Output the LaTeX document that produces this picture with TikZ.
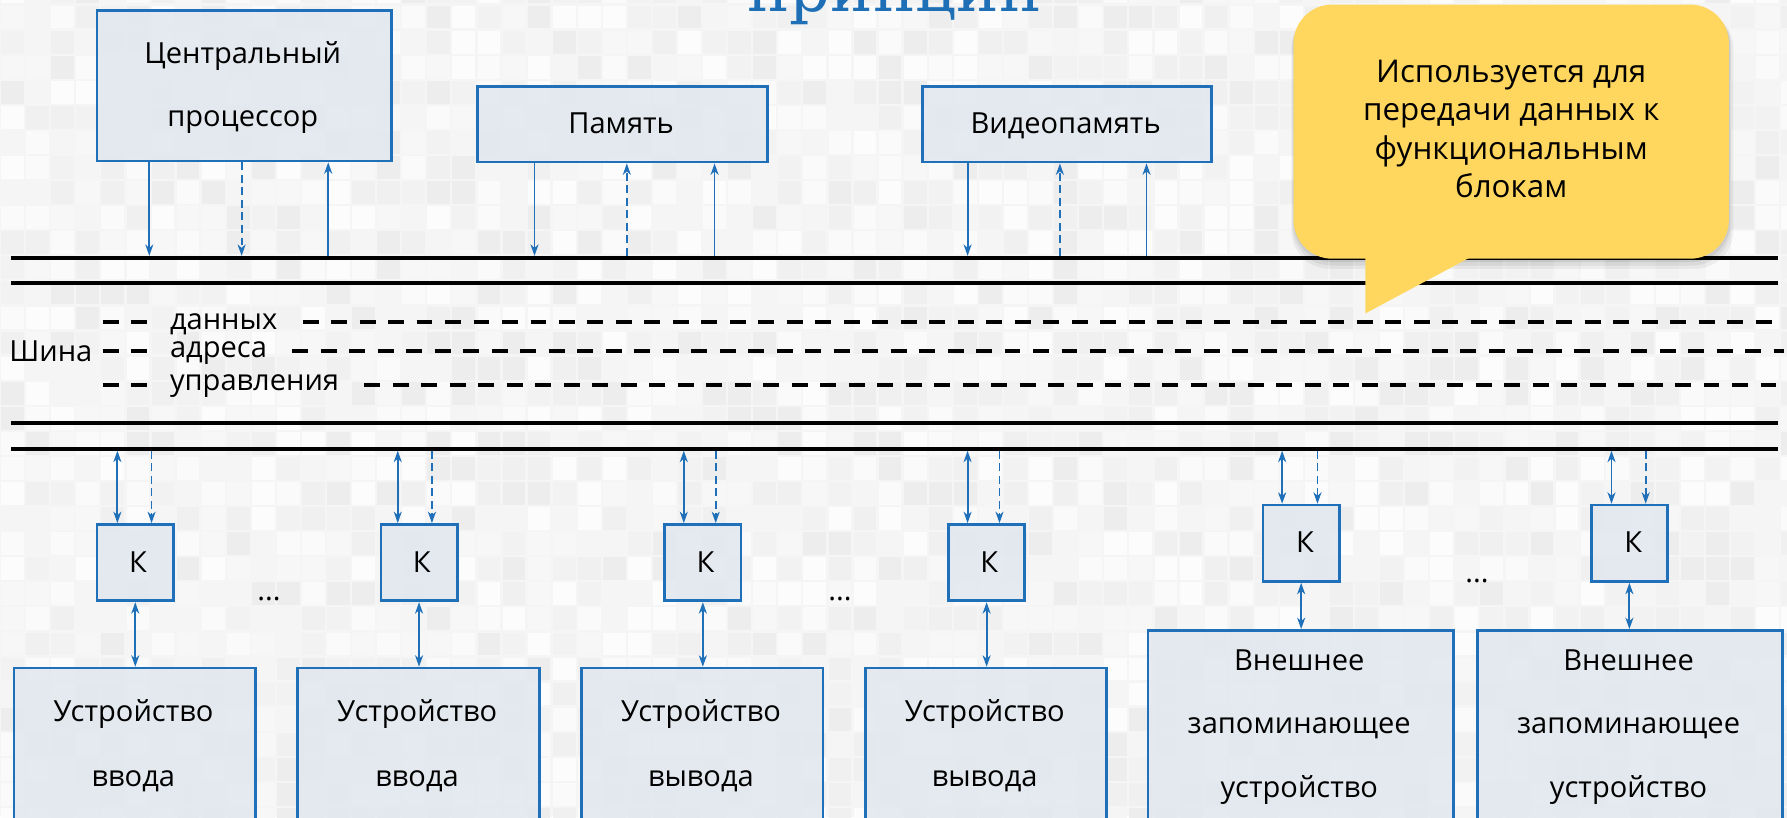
\documentclass[tikz,border=0pt]{standalone}
\usepackage{fontspec}
\setmainfont{Open Sans}
\newfontfamily\titlef{DejaVu Serif}
\usetikzlibrary{arrows.meta}
\definecolor{boxblue}{HTML}{1F70B8}
\definecolor{boxfill}{HTML}{E1E8EE}
\definecolor{callyellow}{HTML}{FFD75E}
\definecolor{titleblue}{HTML}{1F6FB6}
\definecolor{bg}{HTML}{F5F5F5}
\begin{document}
\begin{tikzpicture}[x=1pt,y=-1pt,
  box/.style={draw=boxblue,line width=2.4pt,fill=boxfill,fill opacity=0.88,inner sep=0pt,anchor=north west},
  txt/.style={font=\fontsize{25.5}{30}\selectfont,anchor=base,inner sep=0pt},
  ctxt/.style={font=\fontsize{27.5}{32}\selectfont,anchor=base,inner sep=0pt},
  tip/.tip={Stealth[length=10pt,width=7pt,inset=3pt]},
  arr/.style={draw=boxblue,line width=1.6pt,-tip},
  darr/.style={arr,dash pattern=on 7pt off 4pt},
  dblarr/.style={draw=boxblue,line width=1.6pt,tip-tip},
  busline/.style={line width=3.5pt,black},
  busdash/.style={line width=3.5pt,black,dash pattern=on 14pt off 11pt},
  shade/.style={black,rounded corners=34pt},
]
\useasboundingbox (0,0) rectangle (1568,717);
\clip (0,0) rectangle (1568,717);
% background mosaic
\fill[bg] (0,0) rectangle (1568,717);
\pgfmathsetseed{4242}
\foreach \i in {0,...,71}{\foreach \j in {-1,...,32}{%
  \pgfmathrandominteger{\r}{1}{7}%
  \fill[black!\r] (\i*22+1,\j*22+5) rectangle ++(20,20);}}

% title fragment
\node[anchor=base,inner sep=0pt,font=\titlef\fontsize{56}{60}\selectfont,text=titleblue] (title) at (785,10) {принцип};

% top boxes
\node[box,minimum width=258pt,minimum height=132pt] (cpu) at (84,8) {};
\node[box,minimum width=254pt,minimum height=66pt] (mem) at (418,75) {};
\node[box,minimum width=254pt,minimum height=66pt] (vmem) at (808,75) {};
\node[txt] (cpu1) at (213,56) {Центральный};
\node[txt] (cpu2) at (213,111) {процессор};
\node[txt] (memt) at (545,117) {Память};
\node[txt] (vmemt) at (935,117) {Видеопамять};

% bus
\coordinate (bAl) at (10,226);  \coordinate (bAr) at (1560,226);
\coordinate (bBl) at (10,248);  \coordinate (bBr) at (1560,248);
\coordinate (bCl) at (10,371);  \coordinate (bCr) at (1560,371);
\coordinate (bDl) at (10,394);  \coordinate (bDr) at (1560,394);
\draw[busline] (bAl) -- (bAr);
\draw[busline] (bBl) -- (bBr);
\draw[busline] (bCl) -- (bCr);
\draw[busline] (bDl) -- (bDr);
\coordinate (busAt) at (0,224.5);
\coordinate (busDb) at (0,395.5);

% bus labels
\node[txt,anchor=base west] (shina) at (8,317) {Шина};
\node[txt,anchor=base west] (ld) at (149,289) {данных};
\node[txt,anchor=base west] (la) at (149,314) {адреса};
\node[txt,anchor=base west] (lu) at (149,343) {управления};
\coordinate (rd) at (0,282.5); \coordinate (rdL) at (90,282.5); \coordinate (rdM) at (129,282.5); \coordinate (rdR) at (1565,282.5);
\coordinate (ra) at (0,308);   \coordinate (raL) at (90,308);   \coordinate (raM) at (129,308);   \coordinate (raR) at (1565,308);
\coordinate (ru) at (0,338);   \coordinate (ruL) at (90,338);   \coordinate (ruM) at (129,338);   \coordinate (ruR) at (1565,338);
\draw[busdash] (rdL) -- (rdM);
\draw[busdash] (raL) -- (raM);
\draw[busdash] (ruL) -- (ruM);
\coordinate (ldE) at ([xshift=22pt]ld.east);
\coordinate (laE) at ([xshift=22pt]la.east);
\coordinate (luE) at ([xshift=22pt]lu.east);
\draw[busdash] (ldE |- rd) -- (rdR);
\draw[busdash] (laE |- ra) -- (raR);
\draw[busdash] (luE |- ru) -- (ruR);

% upper arrows
\coordinate (u1) at (131,0); \coordinate (u2) at (212,0); \coordinate (u3) at (288,0);
\coordinate (u4) at (469,0); \coordinate (u5) at (550,0); \coordinate (u6) at (627,0);
\coordinate (u7) at (849,0); \coordinate (u8) at (930,0); \coordinate (u9) at (1006,0);
\draw[arr] (cpu.south -| u1) -- (u1 |- busAt);
\draw[darr] (cpu.south -| u2) -- (u2 |- busAt);
\draw[arr] (u3 |- busAt) -- (cpu.south -| u3);
\draw[arr] (mem.south -| u4) -- (u4 |- busAt);
\draw[darr] (u5 |- busAt) -- (mem.south -| u5);
\draw[arr] (u6 |- busAt) -- (mem.south -| u6);
\draw[arr] (vmem.south -| u7) -- (u7 |- busAt);
\draw[darr] (u8 |- busAt) -- (vmem.south -| u8);
\draw[arr] (u9 |- busAt) -- (vmem.south -| u9);

% controllers
\node[box,minimum width=67pt,minimum height=67pt] (k1) at (84,459) {};
\node[box,minimum width=67pt,minimum height=67pt] (k2) at (333,459) {};
\node[box,minimum width=67pt,minimum height=67pt] (k3) at (582,459) {};
\node[box,minimum width=67pt,minimum height=67pt] (k4) at (831,459) {};
\node[box,minimum width=67pt,minimum height=67pt] (k5) at (1107,442) {};
\node[box,minimum width=67pt,minimum height=67pt] (k6) at (1395,442) {};
\node[txt] (k1t) at (121,502) {К};
\node[txt] (k2t) at (370,502) {К};
\node[txt] (k3t) at (619,502) {К};
\node[txt] (k4t) at (868,502) {К};
\node[txt] (k5t) at (1145,485) {К};
\node[txt] (k6t) at (1433,485) {К};

% lower arrows bus -> K
\coordinate (l1) at (103,0);  \coordinate (l2) at (133,0);
\coordinate (l3) at (349,0);  \coordinate (l4) at (379,0);
\coordinate (l5) at (600,0);  \coordinate (l6) at (628,0);
\coordinate (l7) at (849,0);  \coordinate (l8) at (877,0);
\coordinate (l9) at (1125,0); \coordinate (l10) at (1156,0);
\coordinate (l11) at (1414,0);\coordinate (l12) at (1444,0);
\draw[dblarr] (l1 |- busDb) -- (k1.north -| l1);
\draw[darr] (l2 |- busDb) -- (k1.north -| l2);
\draw[dblarr] (l3 |- busDb) -- (k2.north -| l3);
\draw[darr] (l4 |- busDb) -- (k2.north -| l4);
\draw[dblarr] (l5 |- busDb) -- (k3.north -| l5);
\draw[darr] (l6 |- busDb) -- (k3.north -| l6);
\draw[dblarr] (l7 |- busDb) -- (k4.north -| l7);
\draw[darr] (l8 |- busDb) -- (k4.north -| l8);
\draw[dblarr] (l9 |- busDb) -- (k5.north -| l9);
\draw[darr] (l10 |- busDb) -- (k5.north -| l10);
\draw[dblarr] (l11 |- busDb) -- (k6.north -| l11);
\draw[darr] (l12 |- busDb) -- (k6.north -| l12);

% devices
\node[box,minimum width=212pt,minimum height=170pt] (b1) at (11,585) {};
\node[box,minimum width=212pt,minimum height=170pt] (b2) at (260,585) {};
\node[box,minimum width=212pt,minimum height=170pt] (b3) at (509,585) {};
\node[box,minimum width=212pt,minimum height=170pt] (b4) at (758,585) {};
\node[box,minimum width=268pt,minimum height=200pt] (b5) at (1006,552) {};
\node[box,minimum width=268pt,minimum height=200pt] (b6) at (1295,552) {};
\node[txt] (b1a) at (117,633) {Устройство};
\node[txt] (b1b) at (117,690) {ввода};
\node[txt] (b2a) at (366,633) {Устройство};
\node[txt] (b2b) at (366,690) {ввода};
\node[txt] (b3a) at (615,633) {Устройство};
\node[txt] (b3b) at (615,690) {вывода};
\node[txt] (b4a) at (864,633) {Устройство};
\node[txt] (b4b) at (864,690) {вывода};
\node[txt] (b5a) at (1140,588) {Внешнее};
\node[txt] (b5b) at (1140,644) {запоминающее};
\node[txt] (b5c) at (1140,700) {устройство};
\node[txt] (b6a) at (1429,588) {Внешнее};
\node[txt] (b6b) at (1429,644) {запоминающее};
\node[txt] (b6c) at (1429,700) {устройство};

% K -> device
\draw[dblarr] (k1.south) -- (k1.south |- b1.north);
\draw[dblarr] (k2.south) -- (k2.south |- b2.north);
\draw[dblarr] (k3.south) -- (k3.south |- b3.north);
\draw[dblarr] (k4.south) -- (k4.south |- b4.north);
\draw[dblarr] (k5.south) -- (k5.south |- b5.north);
\draw[dblarr] (k6.south) -- (k6.south |- b6.north);

% ellipses
\node[txt] (dots1) at (236,527) {...};
\node[txt] (dots2) at (737,527) {...};
\node[txt] (dots3) at (1296,511) {...};

% callout with soft shadow
\fill[shade,opacity=0.05] (1133,9) rectangle (1521,236);
\fill[shade,opacity=0.06] (1134,7) rectangle (1519,233);
\fill[shade,opacity=0.07] (1135,6) rectangle (1518,230);
\node[fill=callyellow,rounded corners=34pt,minimum width=382pt,minimum height=223pt,inner sep=0pt] (call) at (1326,115.5) {};
\coordinate (tipA) at (1198,0); \coordinate (tipB) at (1293,0); \coordinate (tipP) at (1198,275);
\coordinate (cb) at ([yshift=3pt]call.south);
\fill[callyellow] (cb -| tipA) -- (tipP) -- (cb -| tipB) -- cycle;
\node[ctxt] (c1) at (1326,72) {Используется для};
\node[ctxt] (c2) at (1326,105.5) {передачи данных к};
\node[ctxt] (c3) at (1326,140) {функциональным};
\node[ctxt] (c4) at (1326,173) {блокам};
\end{tikzpicture}
\end{document}
